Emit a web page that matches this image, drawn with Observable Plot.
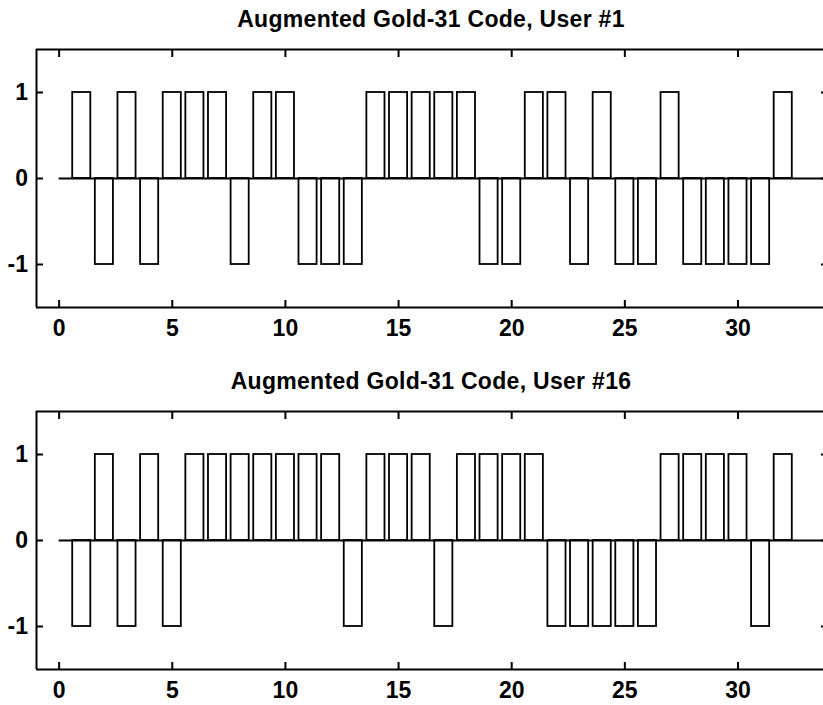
<!DOCTYPE html>
<html>
<head>
<meta charset="utf-8">
<script src="https://cdn.jsdelivr.net/npm/d3@7"></script>
<script src="https://cdn.jsdelivr.net/npm/@observablehq/plot@0.6"></script>
<style>
  html, body { margin: 0; padding: 0; background: white; overflow: hidden; }
  #wrap { position: relative; width: 823px; height: 705px; overflow: hidden; background: white; }
  .title {
    position: absolute; left: 431px; transform: translateX(-50%); z-index: 2;
    white-space: nowrap; font-family: "Liberation Sans", Arial, sans-serif;
    font-weight: bold; font-size: 23px; line-height: 23px; color: black;
    letter-spacing: 0.3px;
  }
  .panel { position: absolute; left: 0; z-index: 1; }
</style>
</head>
<body>
<div id="wrap">
  <div class="panel" id="p1" style="top:0px"></div>
  <div class="panel" id="p2" style="top:362px"></div>
  <div class="title" style="top:7.5px">Augmented Gold-31 Code, User #1</div>
  <div class="title" style="top:369.5px">Augmented Gold-31 Code, User #16</div>
</div>
<script>
// Chip index within the augmented code (31 Gold chips + 1 extra chip)
const chips = [1, 2, 3, 4, 5, 6, 7, 8, 9, 10, 11, 12, 13, 14, 15, 16,
               17, 18, 19, 20, 21, 22, 23, 24, 25, 26, 27, 28, 29, 30, 31, 32];

// Bipolar chip values for each user
const user1 = [1, -1, 1, -1, 1, 1, 1, -1, 1, 1, -1, -1, -1, 1, 1, 1,
               1, 1, -1, -1, 1, 1, -1, 1, -1, -1, 1, -1, -1, -1, -1, 1];
const user16 = [-1, 1, -1, 1, -1, 1, 1, 1, 1, 1, 1, 1, -1, 1, 1, 1,
                -1, 1, 1, 1, 1, -1, -1, -1, -1, -1, 1, 1, 1, 1, -1, 1];

// Axis ticks
const xTicks = [0, 5, 10, 15, 20, 25, 30];
const yTicks = [-1, 0, 1];

const xDomain = [-1, 34];
const yDomain = [-1.5, 1.5];
const halfWidth = 0.4; // each chip drawn 0.8 wide

function codePanel(values) {
  const rows = chips.map((c, i) => ({chip: c, value: values[i]}));
  const fmt = d => String(d);
  const labelFont = {fontSize: 23, fontWeight: "bold"};
  return Plot.plot({
    width: 823,
    height: 343,
    marginTop: 49,
    marginBottom: 36,
    marginLeft: 36,
    marginRight: 0,
    style: {
      fontFamily: "'Liberation Sans', Arial, sans-serif",
      fontSize: "23px",
      fontWeight: "bold",
      color: "black",
      background: "white"
    },
    x: {domain: xDomain, range: [36, 828], label: null},
    y: {domain: yDomain, label: null},
    marks: [
      Plot.rectY(rows, {
        x1: d => d.chip - halfWidth,
        x2: d => d.chip + halfWidth,
        y: "value",
        fill: "white",
        stroke: "black",
        strokeWidth: 1.8
      }),
      Plot.ruleY([0], {x1: 0, x2: xDomain[1], stroke: "black", strokeWidth: 2}),
      // box around the axes
      Plot.ruleX([xDomain[0]], {y1: yDomain[0], y2: yDomain[1], stroke: "black", strokeWidth: 2}),
      Plot.ruleY(yDomain, {x1: xDomain[0], x2: xDomain[1], stroke: "black", strokeWidth: 2}),
      // inward ticks on all four sides, labels on bottom and left
      Plot.axisX(xTicks, {anchor: "bottom", tickSize: -7, tickPadding: 19, tickFormat: fmt, strokeWidth: 2, label: null, ...labelFont}),
      Plot.axisX(xTicks, {anchor: "top", tickSize: -7, tickFormat: () => "", strokeWidth: 2, label: null}),
      Plot.axisY(yTicks, {anchor: "left", tickSize: -7, tickPadding: 15.5, tickFormat: fmt, strokeWidth: 2, label: null, ...labelFont}),
      Plot.axisY(yTicks, {anchor: "right", tickSize: -7, dx: 4, tickFormat: () => "", strokeWidth: 2, label: null})
    ]
  });
}

document.getElementById("p1").append(codePanel(user1));
document.getElementById("p2").append(codePanel(user16));
</script>
</body>
</html>
